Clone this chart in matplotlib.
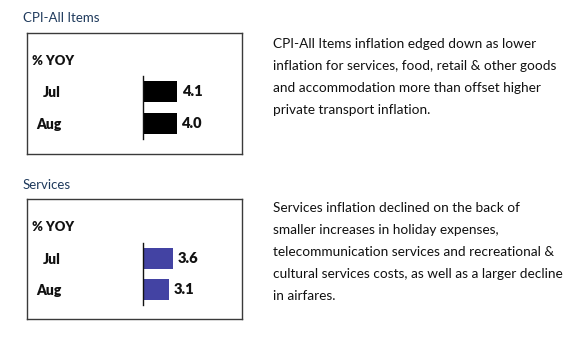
import matplotlib
matplotlib.use("Agg")
import matplotlib.pyplot as plt

# Data
months = ["Jul", "Aug"]
cpi_all_items = [4.1, 4.0]
services = [3.6, 3.1]

panel_titles = ["CPI-All Items", "Services"]
unit_label = "% YOY"
commentary = [
    ["CPI-All Items inflation edged down as lower",
     "inflation for services, food, retail & other goods",
     "and accommodation more than offset higher",
     "private transport inflation."],
    ["Services inflation declined on the back of",
     "smaller increases in holiday expenses,",
     "telecommunication services and recreational &",
     "cultural services costs, as well as a larger decline",
     "in airfares."],
]

W, H, DPI = 577, 346, 100
plt.rcParams["font.family"] = ["Lato", "DejaVu Sans"]

fig = plt.figure(figsize=(W / DPI, H / DPI), dpi=DPI)
fig.patch.set_facecolor("white")


def fx(x):
    return x / W


def fy(y):
    return 1 - y / H


def px_axes(x0, y0, x1, y1):
    return fig.add_axes([fx(x0), fy(y1), (x1 - x0) / W, (y1 - y0) / H])


TITLE_COLOR = "#1f3a5c"
TEXT_COLOR = "#111111"
PX_PER_UNIT = 8.4

panels = [
    dict(values=cpi_all_items, color="#000000", title_y=18, box=(27, 33, 242, 154),
         yoy_y=61, axis=(76, 139), text_y=44),
    dict(values=services, color="#4343a3", title_y=185, box=(27, 199, 242, 319),
         yoy_y=227, axis=(243, 305), text_y=208),
]

for p, title, lines in zip(panels, panel_titles, commentary):
    fig.text(fx(23), fy(p["title_y"]), title, fontsize=9.5, color=TITLE_COLOR,
             ha="left", va="center")

    bx0, by0, bx1, by1 = p["box"]
    box = px_axes(bx0, by0, bx1, by1)
    box.set_xticks([])
    box.set_yticks([])
    box.patch.set_alpha(0)
    for s in box.spines.values():
        s.set_color("#3a3a3a")
        s.set_linewidth(1.0)

    fig.text(fx(32), fy(p["yoy_y"]), unit_label, fontsize=9.4, fontweight="heavy",
             color=TEXT_COLOR, ha="left", va="center")

    ay0, ay1 = p["axis"]
    ax = px_axes(143, ay0, bx1 - 2, ay1)
    ax.patch.set_alpha(0)
    pos = list(range(len(months)))
    bars = ax.barh(pos, p["values"], height=0.68, color=p["color"])
    ax.set_ylim(len(months) - 0.5, -0.5)
    ax.set_xlim(0, (bx1 - 2 - 143) / PX_PER_UNIT)
    ax.set_yticks(pos)
    ax.set_yticklabels(months, fontsize=10, fontweight="heavy", color=TEXT_COLOR)
    ax.tick_params(axis="y", length=0, pad=59)
    ax.set_xticks([])
    for side in ("top", "right", "bottom"):
        ax.spines[side].set_visible(False)
    ax.spines["left"].set_color("#111111")
    ax.spines["left"].set_linewidth(1.0)
    ax.bar_label(bars, fmt="%.1f", padding=3, fontsize=10.5, fontweight="heavy",
                 color=TEXT_COLOR)

    for i, line in enumerate(lines):
        fig.text(fx(273), fy(p["text_y"] + 22 * i), line, fontsize=9.8,
                 color=TEXT_COLOR, ha="left", va="center")

fig.savefig("out.png", dpi=DPI, facecolor="white")
